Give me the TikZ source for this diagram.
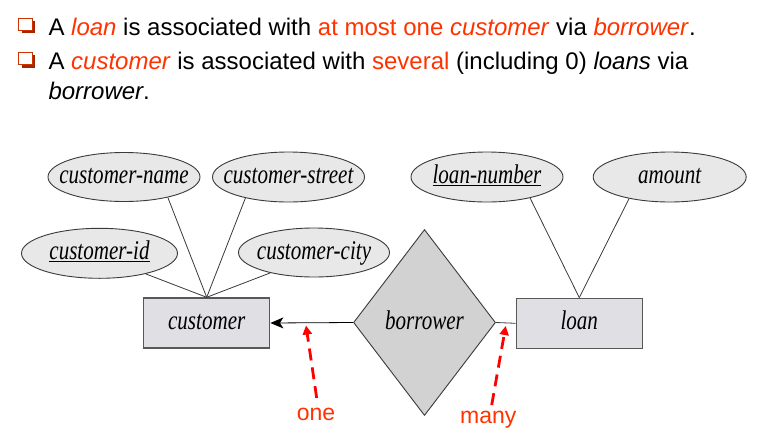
\documentclass[tikz,border=0pt]{standalone}
\usepackage{fontspec}
\setmainfont{Liberation Sans}
\newfontfamily\erfont[FakeStretch=0.78]{Liberation Serif}
\usetikzlibrary{shapes.geometric,arrows.meta}
\definecolor{hl}{HTML}{FF3300}
\definecolor{bul}{HTML}{CC3300}
\definecolor{bulsh}{HTML}{A02800}
\definecolor{ellfill}{HTML}{E8E8E8}
\definecolor{rectfill}{HTML}{E0DFE3}
\definecolor{diafill}{HTML}{D2D2D2}
\definecolor{edge}{HTML}{3A3A3A}
\begin{document}
\begin{tikzpicture}[x=1pt,y=-1pt,
  erfont/.style={font=\erfont\itshape\fontsize{27}{30}\selectfont,text height=18pt,text depth=5pt},
  attr/.style={ellipse,draw=edge,line width=0.9pt,fill=ellfill,inner xsep=-25pt,inner ysep=0pt,minimum width=152pt,minimum height=49pt,erfont},
  entity/.style={rectangle,draw=edge!85,line width=1.4pt,fill=rectfill,minimum width=126pt,minimum height=50pt,inner sep=0pt,erfont},
  rel/.style={diamond,draw=edge,line width=0.9pt,fill=diafill,minimum width=142pt,minimum height=186pt,inner sep=0pt,erfont},
  link/.style={draw=edge,line width=0.8pt},
  note/.style={font=\fontsize{23}{28}\selectfont,text=hl,inner sep=0pt},
  ptr/.style={draw=red,line width=2.8pt,dash pattern=on 12pt off 7pt,-{Triangle[length=9pt,width=9pt]}},
  txt/.style={anchor=base west,inner sep=0pt,font=\fontsize{24}{29}\selectfont},
  bulshadow/.style={fill=bulsh},
  bulbox/.style={fill=white,draw=bul,line width=1pt}
]
\useasboundingbox (0,0) rectangle (769,445);
\fill[white] (0,0) rectangle (769,445);

% bullets
\fill[bulshadow] (21.5,21) rectangle (35,33.3);
\filldraw[bulbox] (18.8,18.5) rectangle (32,30.5);
\fill[bulshadow] (21.5,55.3) rectangle (35,67.6);
\filldraw[bulbox] (18.8,52.8) rectangle (32,64.8);

\node[txt] (l1) at (48.3,35) {A \textcolor{hl}{\textit{loan}} is associated with \textcolor{hl}{at most one \textit{customer}} via \textcolor{hl}{\textit{borrower}}.};
\node[txt] (l2) at (48.3,69.3) {A \textcolor{hl}{\textit{customer}} is associated with \textcolor{hl}{several} (including 0) \textit{loans} via};
\node[txt] (l3) at (48.3,99) {\textit{borrower}.};

% entities and relationship
\node[entity] (customer) at (206.7,323) {customer};
\node[entity] (loan) at (579.3,323.3) {loan};
\node[rel] (borrower) at (424.5,322.5) {borrower};

% attributes
\node[attr] (cname) at (124,177) {customer-name};
\node[attr,minimum height=50pt] (cstreet) at (288.5,177) {customer-street};
\node[attr,minimum width=156pt,minimum height=50pt] (cid) at (99.5,253.3) {\underline{customer-id}};
\node[attr,minimum width=151pt] (ccity) at (314,252.5) {customer-city};
\node[attr,minimum height=50pt] (lnum) at (487,177) {\underline{loan-number}};
\node[attr,minimum width=153pt,minimum height=50pt] (amount) at (669.7,177) {amount};

% attribute links
\draw[link] (cname.-25) -- (customer.north);
\draw[link] (cstreet.-154) -- (customer.north);
\draw[link] (cid.-24) -- (customer.north);
\draw[link] (ccity.-155) -- (customer.north);
\draw[link] (lnum.-26) -- (loan.north);
\draw[link] (amount.-152) -- (loan.north);

% relationship links
\draw[link,-{Stealth[length=13pt,width=11pt,inset=3.5pt]},black] (borrower.west) -- (customer.east);
\draw[link] (borrower.east) -- (loan.west);

% annotations
\node[note] (one) at (316,414) {one};
\node[note] (many) at (488.3,420) {many};
\coordinate (onetail) at (316.7,398);
\coordinate (onetip) at (306,325.5);
\coordinate (manytail) at (491.7,405);
\coordinate (manytip) at (505.7,326);
\draw[ptr] (onetail) -- (onetip);
\draw[ptr] (manytail) -- (manytip);
\end{tikzpicture}
\end{document}
